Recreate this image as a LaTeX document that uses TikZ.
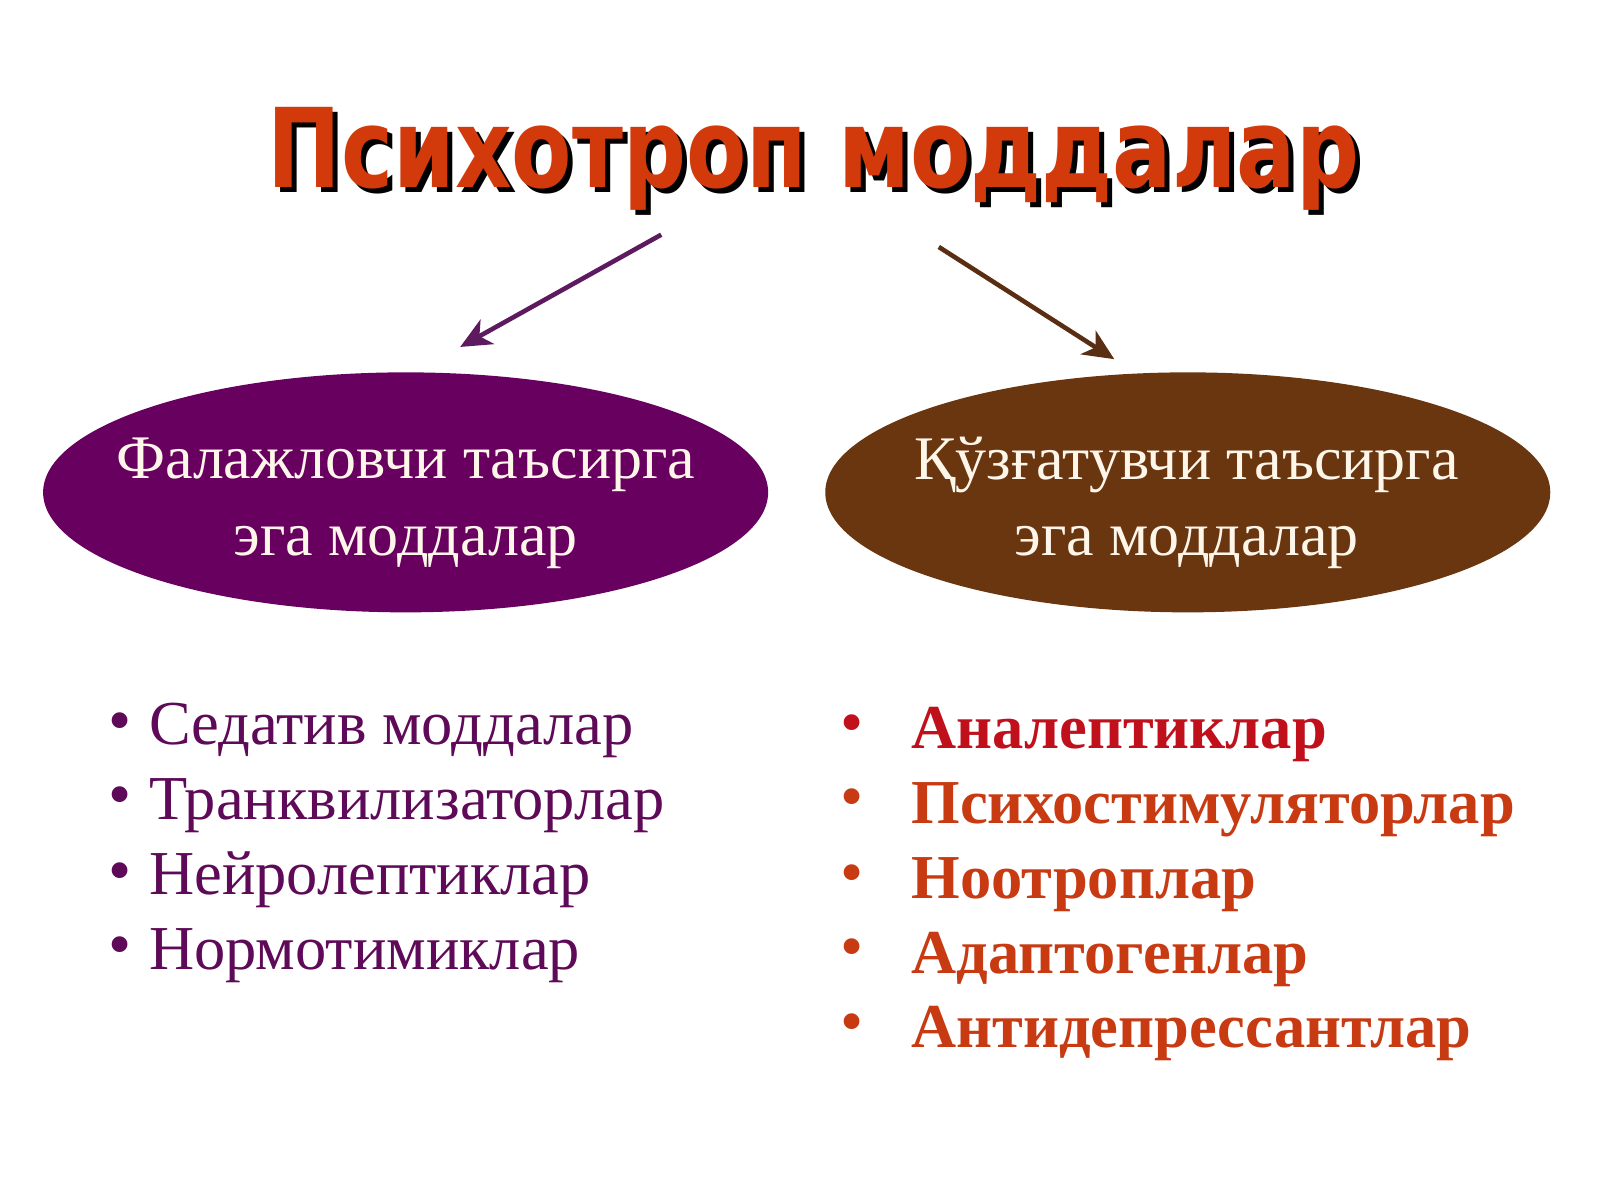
\documentclass[tikz,border=0pt]{standalone}
\usepackage{fontspec}
\setmainfont{Liberation Serif}
\newfontfamily\titlefont[FakeStretch=0.80]{DejaVu Sans}
\usetikzlibrary{shapes.geometric,arrows.meta}
\definecolor{titlered}{HTML}{D23A0C}
\definecolor{lpurple}{HTML}{680060}
\definecolor{rbrown}{HTML}{6A3610}
\definecolor{ltext}{HTML}{5E0A58}
\definecolor{rtext1}{HTML}{C0101C}
\definecolor{rtext}{HTML}{C83A12}
\definecolor{cream}{HTML}{FFF6EA}
\definecolor{arrpurple}{HTML}{5E1A5E}
\definecolor{arrbrown}{HTML}{5A2E12}
\newcommand{\shadowtitle}[1]{\rlap{\hspace{5.1pt}\raisebox{-5.1pt}{\color{black}#1}}{\color{titlered}#1}}
\tikzset{
  oval/.style={ellipse, minimum width=725pt, minimum height=240pt, inner sep=0pt},
  ovaltext/.style={text=cream, align=center, inner sep=0pt,
    font=\fontsize{62}{76.5}\selectfont},
  titletext/.style={anchor=base, inner sep=0pt,
    font=\titlefont\bfseries\fontsize{110}{120}\selectfont},
  leftitem/.style={anchor=base west, inner sep=0pt, text=ltext,
    font=\fontsize{62.5}{75}\selectfont},
  rightitem/.style={anchor=base west, inner sep=0pt,
    font=\bfseries\fontsize{62.5}{75}\selectfont},
  bul/.style={anchor=center, inner sep=0pt, font=\fontsize{66}{70}\selectfont},
  arrowline/.style={line width=4.6pt, -{Stealth[length=31pt,width=28pt,inset=9pt]}}
}
\begin{document}
\begin{tikzpicture}[x=1.0204pt,y=-1.0204pt]
\useasboundingbox (0,0) rectangle (1568,1176);
\fill[white] (0,0) rectangle (1568,1176);
% title with shadow
\node[titletext] (title) at (797,184) {\shadowtitle{Психотроп моддалар}};
% arrows
\coordinate (la1) at (648,230);
\coordinate (la2) at (451,340);
\coordinate (ra1) at (920,242);
\coordinate (ra2) at (1092,352);
\draw[arrowline, arrpurple] (la1) -- (la2);
\draw[arrowline, arrbrown] (ra1) -- (ra2);
% ellipses
\node[oval, fill=lpurple] (left) at (397.5,482.5) {};
\node[oval, fill=rbrown] (right) at (1164,482.5) {};
\node[ovaltext] (lefttext) at (397.5,493) {Фалажловчи таъсирга\\эга моддалар};
\node[ovaltext] (righttext) at (1163,493) {Қўзғатувчи таъсирга\\эга моддалар};
% left list
\node[bul, text=ltext] (lb1) at (118,713) {•};
\node[bul, text=ltext] (lb2) at (118,786) {•};
\node[bul, text=ltext] (lb3) at (118,860) {•};
\node[bul, text=ltext] (lb4) at (118,933) {•};
\node[leftitem] (l1) at (146,730) {Седатив моддалар};
\node[leftitem] (l2) at (146,803) {Транквилизаторлар};
\node[leftitem] (l3) at (146,877) {Нейролептиклар};
\node[leftitem] (l4) at (146,950) {Нормотимиклар};
% right list
\node[bul, text=rtext1] (rb1) at (835,715) {•};
\node[bul, text=rtext] (rb2) at (835,788) {•};
\node[bul, text=rtext] (rb3) at (835,862) {•};
\node[bul, text=rtext] (rb4) at (835,935) {•};
\node[bul, text=rtext] (rb5) at (835,1008) {•};
\node[rightitem, text=rtext1] (r1) at (893,734) {Аналептиклар};
\node[rightitem, text=rtext] (r2) at (893,807) {Психостимуляторлар};
\node[rightitem, text=rtext] (r3) at (893,881) {Ноотроплар};
\node[rightitem, text=rtext] (r4) at (893,954) {Адаптогенлар};
\node[rightitem, text=rtext] (r5) at (893,1027) {Антидепрессантлар};
\end{tikzpicture}
\end{document}
